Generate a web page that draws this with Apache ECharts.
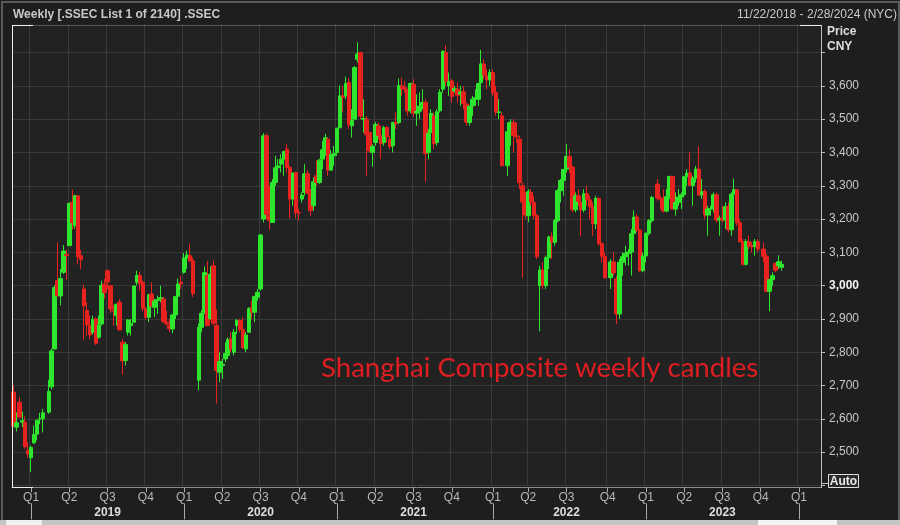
<!DOCTYPE html>
<html><head><meta charset="utf-8">
<script src="https://cdn.jsdelivr.net/npm/echarts@6.0.0/dist/echarts.min.js"></script>
<style>html,body{margin:0;padding:0;background:#1e1e1e;}#c{width:900px;height:525px;}</style>
</head><body><div id="c"></div><script>
// ---- data ----
const firstWeek = '2018-11-23';   // Friday of first weekly candle
const weekCount = 275;            // weeks shown on the axis (to 2/28/2024)
const quarterNames = ['Q1','Q2','Q3','Q4'];
const yearLabels = ['2019','2020','2021','2022','2023'];
const yTicks = [2500,2600,2700,2800,2900,3000,3100,3200,3300,3400,3500,3600];
const lastPrice = 3064.0622;
const lastPriceText = '3,064.06220';

const open = [2680,2575,2650,2590,2590,2505,2483,2528,2554,2600,2600,null,2620,2696,2810,3015,2969,3040,3094,3120,3250,3180,3270,3090,2990,2925,2880,2860,2900,2845,2885,3005,3045,3000,2925,2910,2950,2830,2775,2860,2880,2890,3010,3030,3010,2930,2905,2975,2935,2955,2960,2960,2890,2880,2870,2912,2968,3010,
3040,3083,3090,3075,null,2716,2875,2920,3030,2900,3060,2880,2740,2760,2780,2790,2840,2800,2880,2895,2868,2810,2860,2935,2920,2965,2990,3200,3450,3210,3190,3310,3354,3365,3380,3410,3355,3260,3340,3220,3260,3280,3336,3280,3240,3330,3310,3380,3405,3440,3347,3390,3400,
3474,3570,3570,3610,3480,3500,3680,3700,3500,3500,3460,3400,3430,3480,3450,3430,3475,3440,3420,3490,3490,3600,3595,3590,3525,3605,3518,3524,3540,3550,3400,3460,3510,3430,3525,3590,3700,3600,3615,3585,3590,3575,3582,3545,3490,3540,3560,3560,3610,3666,3630,3618,
3640,3580,3520,3510,null,3360,3460,3490,3450,3440,3300,3250,3210,3280,3250,3210,3000,3047,3000,3084,3146,3130,3195,3285,3316,3350,3388,3356,3228,3270,3250,3227,3276,3258,3236,3186,3262,3126,3088,null,3024,3071,3020,2915,3070,3087,3097,3101,3156,3206,3167,3045,
3089,3157,3195,null,3305,3263,3260,3224,3267,3328,3230,3250,3266,3273,3327,3338,3301,3323,3350,3272,3283,3212,3230,3231,3273,3197,3202,3197,3237,3168,3275,3288,3189,3132,3064,3133,3120,3117,3132,null,3110,3088,2983,3018,3066,3060,3055];
const high = [2700,2619,2666,2621,2607,2530,2520,2580,2597,2618,2630,null,2717,2810,3001,3129,3050,3122,3108,3250,3288,3273,3270,3107,3003,2950,2910,2910,2905,2910,3015,3020,3048,3002,2940,2945,2960,2840,2830,2900,2900,3000,3045,3042,3015,2936,2975,3010,2960,2970,3000,2966,2925,2900,2915,2968,3021,3030,
3098,3105,3127,3085,null,2886,2926,3058,3074,3058,3075,2928,2800,2780,2830,2845,2860,2870,2900,2900,2905,2860,2935,2955,2970,2990,3155,3458,3458,3300,3320,3390,3380,3395,3405,3425,3360,3340,3342,3230,3280,3365,3348,3290,3325,3376,3381,3435,3456,3445,3408,3420,3474,
3601,3600,3628,3623,3530,3660,3731,3700,3560,3510,3460,3425,3492,3490,3460,3480,3480,3450,3492,3520,3622,3625,3615,3590,3610,3620,3575,3580,3590,3560,3470,3530,3520,3530,3590,3708,3723,3640,3620,3600,3610,3600,3600,3550,3540,3570,3590,3610,3708,3680,3650,3650,
3650,3600,3560,3520,null,3490,3500,3500,3490,3450,3310,3280,3290,3290,3270,3215,3060,3070,3090,3150,3160,3200,3290,3320,3350,3425,3410,3360,3280,3290,3260,3290,3300,3270,3250,3270,3265,3130,3100,null,3080,3100,3030,3080,3100,3120,3110,3170,3226,3215,3170,3100,
3160,3200,3270,null,3320,3270,3290,3290,3330,3330,3280,3290,3280,3330,3350,3400,3330,3360,3418,3320,3290,3240,3240,3280,3280,3210,3240,3250,3250,3280,3322,3290,3200,3140,3140,3150,3130,3140,3140,null,3130,3095,3020,3040,3070,3091,3075];
const low = [2575,2562,2602,2575,2510,2483,2440,2524,2535,2584,2559,null,2615,2688,2808,2969,2941,3035,3016,3120,3168,3170,3063,3050,2838,2850,2838,2853,2822,2840,2880,2960,2990,2917,2880,2880,2866,2733,2760,2850,2850,2890,3000,2985,2923,2899,2890,2935,2906,2915,2950,2891,2880,2860,2857,2900,2965,2990,
3036,3050,3070,2966,null,2685,2860,2915,2880,2900,2880,2646,2710,2720,2770,2780,2800,2790,2855,2860,2810,2800,2860,2900,2890,2955,2985,3190,3200,3168,3190,3300,3312,3340,3330,3340,3202,3240,3202,3195,3250,3270,3275,3210,3225,3300,3305,3350,3390,3330,3345,3360,3390,
3474,3520,3560,3470,3445,3500,3670,3500,3460,3328,3400,3357,3420,3440,3380,3420,3430,3410,3400,3470,3485,3570,3580,3510,3518,3507,3480,3500,3530,3312,3380,3450,3410,3420,3520,3580,3600,3570,3550,3580,3550,3540,3530,3480,3480,3510,3540,3540,3600,3620,3590,3600,
3570,3510,3500,3357,null,3330,3420,3400,3430,3290,3023,3200,3190,3240,3200,3080,2863,2990,2990,3050,3080,3120,3190,3250,3270,3340,3340,3220,3220,3240,3150,3220,3240,3200,3150,3170,3120,3070,3020,null,2990,3030,2885,2900,3030,3060,3060,3030,3150,3160,3040,3040,
3070,3150,3190,null,3255,3230,3220,3220,3260,3230,3210,3240,3230,3270,3300,3300,3240,3310,3270,3260,3200,3150,3210,3220,3190,3150,3190,3170,3160,3150,3260,3180,3130,3060,3060,3110,3100,3090,3100,null,3070,2980,2923,3000,3040,3050,3045];
const close = [2579,2588,2605,2594,2516,2494,2514,2553,2596,2601,2618,null,2682,2804,2994,2969,3021,3104,3090,3247,3189,3270,3086,3078,2939,2882,2852,2898,2827,2882,3001,2979,3011,2930,2924,2944,2867,2774,2823,2897,2886,2999,3031,3006,2932,2905,2973,2938,2954,2958,2964,2891,2885,2871,2912,2967,3005,3005,
3083,3092,3075,2976,null,2875,2917,3039,2880,3034,2887,2745,2772,2764,2796,2838,2809,2860,2895,2868,2813,2852,2931,2920,2967,2980,3152,3450,3214,3196,3310,3354,3360,3380,3403,3355,3260,3338,3219,3218,3272,3336,3278,3225,3312,3310,3377,3408,3444,3347,3394,3397,3473,
3570,3566,3607,3483,3496,3655,3696,3509,3502,3453,3405,3418,3484,3451,3426,3474,3447,3418,3490,3486,3601,3592,3590,3525,3607,3518,3524,3539,3550,3397,3458,3517,3427,3522,3581,3703,3614,3613,3568,3592,3572,3582,3547,3491,3539,3560,3564,3607,3666,3632,3618,3640,
3580,3521,3522,3361,null,3462,3491,3451,3447,3309,3251,3212,3282,3251,3211,3087,3047,3001,3084,3146,3131,3195,3285,3316,3349,3388,3356,3228,3270,3253,3227,3276,3258,3236,3186,3262,3126,3088,3024,null,3071,3038,2915,3070,3087,3097,3101,3156,3206,3167,3045,3089,
3157,3195,3265,null,3263,3260,3224,3267,3328,3230,3250,3266,3273,3327,3338,3301,3323,3350,3272,3283,3212,3230,3231,3273,3197,3202,3197,3237,3168,3275,3288,3189,3132,3064,3133,3117,3117,3132,3110,null,3088,2983,3018,3030,3046,3072,3064.0622];

// ---- build ----
const weeks = [];
const t0 = Date.parse(firstWeek + 'T00:00:00Z');
for (let i = 0; i < weekCount; i++) weeks.push(new Date(t0 + i * 7 * 864e5).toISOString().slice(0, 10));
const monthOf = i => +weeks[i].slice(5, 7);
const isQuarterStart = weeks.map((w, i) => i > 0 && (monthOf(i) - 1) % 3 === 0 && monthOf(i) !== monthOf(i - 1));
const isYearStart = weeks.map((w, i) => i > 0 && monthOf(i) === 1 && monthOf(i - 1) !== 1);
const isMidYear = weeks.map((w, i) => i > 0 && monthOf(i) === 7 && monthOf(i - 1) !== 7 && yearLabels.includes(w.slice(0, 4)));
const candles = weeks.map((w, i) => (i < open.length && open[i] != null) ? [open[i], close[i], low[i], high[i]] : '-');

const GREEN = '#2de62d', RED = '#e8231f';
const chart = echarts.init(document.getElementById('c'), null, {renderer: 'canvas'});
const fmt = v => v.toLocaleString('en-US');
chart.setOption({
  animation: false,
  backgroundColor: '#1e1e1e',
  grid: {left: 12, right: 79, top: 19.3, bottom: 39.6, show: true, backgroundColor: '#222222', borderWidth: 0, outerBoundsMode: 'none'},
  xAxis: [{
    type: 'category', data: weeks, offset: 2,
    axisLine: {show: true, lineStyle: {color: '#8a8a8a', width: 1}},
    axisTick: {show: true, alignWithLabel: true, length: 5, interval: i => isQuarterStart[i], lineStyle: {color: '#aaaaaa'}},
    axisLabel: {interval: i => isQuarterStart[i], formatter: v => quarterNames[(+v.slice(5, 7) - 1) / 3], color: '#b8b8b8', fontSize: 12, fontFamily: 'Liberation Sans', margin: 4},
    splitLine: {show: true, interval: i => isQuarterStart[i], lineStyle: {color: '#3a3a3a', width: 1}}
  }, {
    type: 'category', data: weeks, position: 'bottom', offset: 18,
    axisLine: {show: false},
    axisTick: {show: true, alignWithLabel: true, length: 16, interval: i => isYearStart[i], lineStyle: {color: '#aaaaaa'}},
    axisLabel: {interval: i => isMidYear[i], formatter: v => v.slice(0, 4), color: '#dddddd', fontSize: 12, fontWeight: 'bold', fontFamily: 'Liberation Sans', margin: 3},
    splitLine: {show: false}
  }],
  yAxis: {
    type: 'value', position: 'right', min: 2400, max: 3800, interval: 100,
    axisLine: {show: false},
    axisTick: {show: true, length: 4, lineStyle: {color: '#bbbbbb'}},
    axisLabel: {
      color: '#c8c8c8', fontSize: 12, fontFamily: 'Liberation Sans', margin: 8,
      formatter: v => yTicks.includes(v) ? (v === 3000 ? '{b|' + fmt(v) + '}' : fmt(v)) : '',
      rich: {b: {color: '#f2f2f2', fontWeight: 'bold', fontSize: 12, fontFamily: 'Liberation Sans'}}
    },
    splitLine: {show: true, lineStyle: {color: '#383838', width: 1}}
  },
  series: [{
    type: 'candlestick', xAxisIndex: 0, data: candles, barWidth: 4,
    itemStyle: {color: GREEN, color0: RED, borderColor: GREEN, borderColor0: RED, borderWidth: 1},
    markLine: {
      silent: true, symbol: 'none', animation: false,
      lineStyle: {opacity: 0},
      data: [{yAxis: lastPrice}],
      label: {position: 'end', distance: 1, formatter: lastPriceText, backgroundColor: '#f01c1c', color: '#2a0000',
        fontSize: 12, fontFamily: 'Liberation Sans', padding: [2, 4, 1, 2]}
    }
  }],
  graphic: [
    {type: 'rect', z: 100, shape: {x: 0, y: 0, width: 900, height: 24}, style: {fill: '#1e1e1e'}},
    {type: 'rect', z: 101, shape: {x: 2, y: 2, width: 897, height: 530}, style: {fill: null, stroke: '#5a5a5a', lineWidth: 2}},
    {type: 'text', z: 102, x: 13, y: 15, style: {text: 'Weekly [.SSEC List 1 of 2140] .SSEC', fill: '#c8c8c8', font: 'bold 12px "Liberation Sans"', verticalAlign: 'middle'}},
    {type: 'text', z: 102, x: 897, y: 15, style: {text: '11/22/2018 - 2/28/2024 (NYC)', fill: '#c8c8c8', font: '12px "Liberation Sans"', align: 'right', verticalAlign: 'middle'}},
    {type: 'line', z: 102, shape: {x1: 12, y1: 25.5, x2: 821, y2: 25.5}, style: {stroke: '#555555', lineWidth: 1}},
    {type: 'line', z: 103, shape: {x1: 12, y1: 25.5, x2: 33, y2: 25.5}, style: {stroke: '#eeeeee', lineWidth: 1}},
    {type: 'line', z: 103, shape: {x1: 800, y1: 25.5, x2: 821, y2: 25.5}, style: {stroke: '#eeeeee', lineWidth: 1}},
    {type: 'line', z: 103, shape: {x1: 12.5, y1: 25, x2: 12.5, y2: 488}, style: {stroke: '#eeeeee', lineWidth: 1}},
    {type: 'line', z: 103, shape: {x1: 12, y1: 487.5, x2: 33, y2: 487.5}, style: {stroke: '#eeeeee', lineWidth: 1}},
    {type: 'line', z: 103, shape: {x1: 821.5, y1: 25, x2: 821.5, y2: 488}, style: {stroke: '#c0c0c0', lineWidth: 1}},
    {type: 'line', z: 103, shape: {x1: 821.5, y1: 483.5, x2: 828, y2: 483.5}, style: {stroke: '#c0c0c0', lineWidth: 1}},
    {type: 'text', z: 102, x: 827, y: 26, style: {text: 'Price', fill: '#dddddd', font: 'bold 12px "Liberation Sans"'}},
    {type: 'text', z: 102, x: 827, y: 41, style: {text: 'CNY', fill: '#dddddd', font: 'bold 12px "Liberation Sans"'}},
    {type: 'rect', z: 102, shape: {x: 828.5, y: 474.5, width: 30, height: 13}, style: {fill: '#2a2a2a', stroke: '#dddddd', lineWidth: 1}},
    {type: 'text', z: 103, x: 843.5, y: 481.5, style: {text: 'Auto', fill: '#e8e8e8', font: 'bold 12px "Liberation Sans"', align: 'center', verticalAlign: 'middle'}},
    {type: 'text', z: 102, x: 321, y: 368, style: {text: 'Shanghai Composite weekly candles', fill: '#e01e22', font: '27.6px Lato', verticalAlign: 'middle'}},
    {type: 'rect', z: 104, shape: {x: 0, y: 520, width: 900, height: 5}, style: {fill: '#c4c4c4'}},
    {type: 'rect', z: 105, shape: {x: 6, y: 520, width: 36, height: 5}, style: {fill: '#f0f0f0'}},
    {type: 'rect', z: 105, shape: {x: 758, y: 520, width: 79, height: 5}, style: {fill: '#f4f4f4'}}
  ]
});
</script></body></html>
